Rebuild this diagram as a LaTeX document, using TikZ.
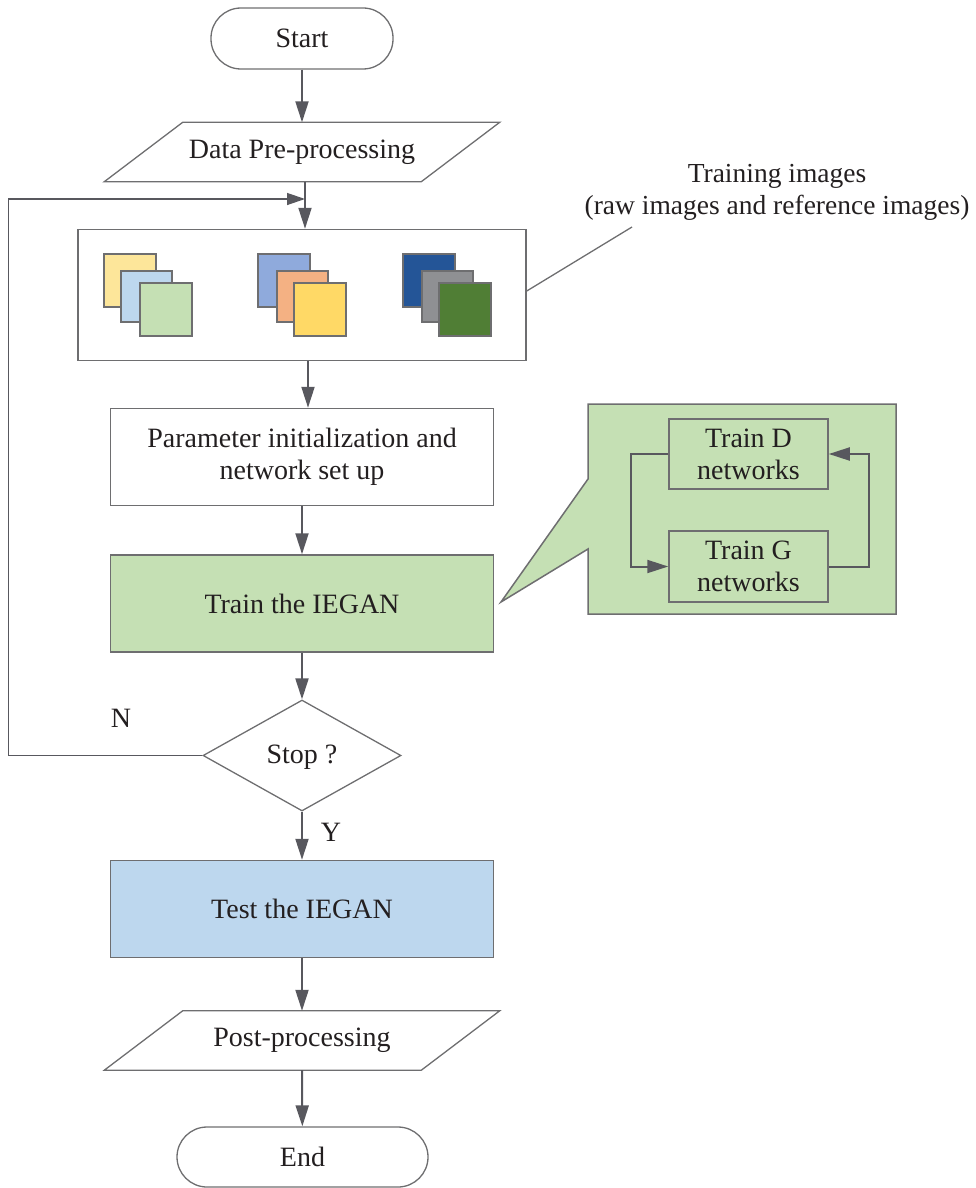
\documentclass[tikz,border=0pt]{standalone}
\usepackage{fontspec}
\setmainfont{Liberation Serif}
\usetikzlibrary{shapes.geometric,arrows.meta,calc}
\definecolor{lg}{RGB}{88,88,94}
\definecolor{bg}{RGB}{110,110,112}
\definecolor{gfill}{HTML}{C5E0B4}
\definecolor{bfill}{HTML}{BDD7EE}
\definecolor{ytxt}{RGB}{35,31,32}
\definecolor{sqa}{HTML}{FDE69A}
\definecolor{sqb}{HTML}{BDD7EE}
\definecolor{sqc}{HTML}{C5E0B4}
\definecolor{sqd}{HTML}{8FAADC}
\definecolor{sqe}{HTML}{F4B183}
\definecolor{sqf}{HTML}{FFD966}
\definecolor{sqg}{HTML}{245597}
\definecolor{sqh}{HTML}{8F9093}
\definecolor{sqi}{HTML}{507E35}
\begin{document}
\begin{tikzpicture}[x=1pt,y=-1pt,
  every node/.style={font=\fontsize{28}{32}\selectfont, text=ytxt},
  box/.style={draw=bg, line width=1.5pt, rectangle, minimum width=383, minimum height=97, align=center, inner sep=0},
  term/.style={draw=bg, line width=1.3pt, rectangle, rounded corners=30pt, minimum height=61, inner sep=0},
  para/.style={rectangle, draw=none, minimum width=395, minimum height=59, inner sep=0},
  pline/.style={draw=bg, line width=1.3pt, line join=miter},
  arr/.style={draw=lg, line width=2pt, -{Triangle[length=21pt,width=13pt]}},
  fbarr/.style={draw=lg, line width=1.3pt, -{Triangle[length=18pt,width=12pt]}},
  sq/.style={draw=bg, line width=1.5pt},
  small/.style={draw=bg, line width=1.5pt, fill=gfill, rectangle, minimum width=159, minimum height=70, align=center, inner sep=0}]
\useasboundingbox (0,0) rectangle (976,1188);

% main column
\node[term, minimum width=182] (start) at (302,38.5) {Start};
\node[para] (dp) at (302,152) {Data Pre-processing};
\draw[pline] (dp.south west) -- ++(317,0) -- (dp.north east) -- ++(-317,0) -- cycle;
\node[draw=bg, line width=1.5pt, rectangle, minimum width=448, minimum height=131, inner sep=0] (imgs) at (302,295) {};
\node[box] (param) at (302,457) {Parameter initialization and\\network set up};
\node[box, fill=gfill] (train) at (302,603.5) {Train the IEGAN};
\node[draw=bg, line width=1.3pt, shape=diamond, aspect=1.78, minimum width=198, minimum height=111, inner sep=0] (stop) at (302,755.5) {};
\node at (302,757) {Stop ?};
\node[box, fill=bfill] (test) at (302,909) {Test the IEGAN};
\node[para] (pp) at (302,1040.5) {Post-processing};
\draw[pline] (pp.south west) -- ++(317,0) -- (pp.north east) -- ++(-317,0) -- cycle;
\node[term, minimum width=251, minimum height=60] (end) at (302.5,1157) {End};

% image squares
\filldraw[sq, fill=sqa] (104,254) rectangle (156,307);
\filldraw[sq, fill=sqb] (121,271) rectangle (172,322);
\filldraw[sq, fill=sqc] (140,283) rectangle (192,336);
\filldraw[sq, fill=sqd] (258,254) rectangle (310,307);
\filldraw[sq, fill=sqe] (277,271) rectangle (328,322);
\filldraw[sq, fill=sqf] (294,283) rectangle (346,336);
\filldraw[sq, fill=sqg] (403,254) rectangle (455,307);
\filldraw[sq, fill=sqh] (422,271) rectangle (473,322);
\filldraw[sq, fill=sqi] (439,283) rectangle (491,336);

% training images label
\coordinate (lblend) at (632,227);
\draw[draw=bg, line width=1.3pt] ([yshift=4]imgs.east) -- (lblend);
\node[align=center, font=\fontsize{27.5}{32}\selectfont] (lbl) at (777,192) {Training images\\(raw images and reference images)};

% arrows main column
\draw[arr] (start) -- (dp.south |- dp.north);
\draw[arr] ([xshift=3]dp.south) -- ([xshift=3]imgs.north);
\draw[arr] ([xshift=6]imgs.south) -- ([xshift=6]param.north);
\draw[arr] (param) -- (train);
\draw[arr] (train.south) -- (stop.north);
\draw[arr] (stop.south) -- (test.north);
\draw[arr] (test) -- (pp.south |- pp.north);
\draw[arr] (pp.south) -- (end);

% feedback loop
\coordinate (j) at (305,199);
\draw[fbarr] (stop.west) -- ++(-194,0) |- (j);
\node (nlab) at (121,718) {N};
\node (ylab) at (331,832) {Y};

% callout
\coordinate (tip) at (501,602);
\draw[draw=bg, line width=1.5pt, fill=gfill, line join=miter] (588,404) -- (896,404) -- (896,614) -- (588,614) -- (588,549) -- (tip) -- (588,479) -- cycle;
\node[small] (td) at (748.5,454) {Train D\\networks};
\node[small, minimum height=71] (tg) at (748.5,566.5) {Train G\\networks};
\draw[arr] (td.west) -- ++(-37,0) |- (tg.west);
\draw[arr] (tg.east) -- ++(40,0) |- (td.east);
\end{tikzpicture}
\end{document}
